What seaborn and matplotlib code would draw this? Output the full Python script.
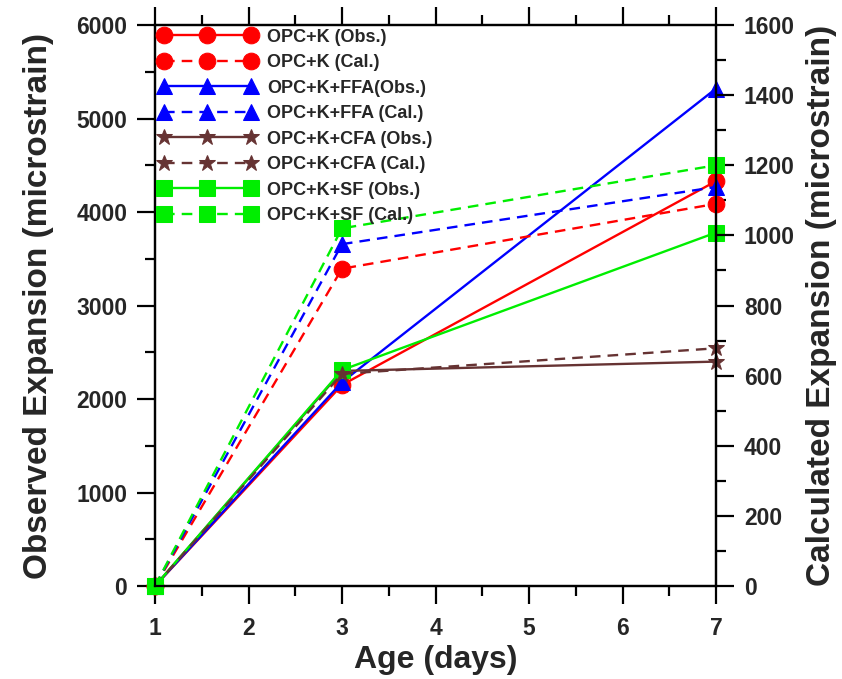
import matplotlib
matplotlib.use("Agg")
import matplotlib.pyplot as plt
import seaborn as sns
import pandas as pd
from matplotlib.ticker import MultipleLocator

sns.set_theme(style="white")
plt.rcParams['font.family'] = ['Liberation Sans', 'DejaVu Sans']
plt.rcParams['font.weight'] = 'bold'

days = [1, 3, 7]
k_obs = [0, 2150, 4330]
k_cal = [0, 905, 1090]
ffa_obs = [0, 2180, 5320]
ffa_cal = [0, 975, 1138]
cfa_obs = [0, 2300, 2400]
cfa_cal = [0, 605, 678]
sf_obs = [0, 2310, 3780]
sf_cal = [0, 1020, 1200]

labels_obs = ["OPC+K (Obs.)", "OPC+K+FFA(Obs.)", "OPC+K+CFA (Obs.)", "OPC+K+SF (Obs.)"]
labels_cal = ["OPC+K (Cal.)", "OPC+K+FFA (Cal.)", "OPC+K+CFA (Cal.)", "OPC+K+SF (Cal.)"]
colors = ["#ff0000", "#0000ff", "#663333", "#00ee00"]
markers = ["o", "^", "*", "s"]
msizes = [12, 11.5, 12, 12]

fig = plt.figure(figsize=(8.42, 6.79), dpi=100)
ax = fig.add_axes([155/842, 1-586/679, (716-155)/842, (586-25)/679])
ax2 = ax.twinx()

obs_sets = [k_obs, ffa_obs, cfa_obs, sf_obs]
cal_sets = [k_cal, ffa_cal, cfa_cal, sf_cal]

handles = {}
for i in range(4):
    df = pd.DataFrame({"day": days, "val": obs_sets[i]})
    sns.lineplot(data=df, x="day", y="val", ax=ax, color=colors[i], marker=markers[i],
                 markersize=msizes[i], markeredgecolor=colors[i], linewidth=1.7,
                 label=labels_obs[i], clip_on=False, legend=False)
    handles[labels_obs[i]] = ax.lines[-1]
for i in range(4):
    df = pd.DataFrame({"day": days, "val": cal_sets[i]})
    sns.lineplot(data=df, x="day", y="val", ax=ax2, color=colors[i], marker=markers[i],
                 markersize=msizes[i], markeredgecolor=colors[i], linewidth=1.7,
                 linestyle=(0, (4.5, 3)), label=labels_cal[i], clip_on=False, legend=False)
    handles[labels_cal[i]] = ax2.lines[-1]

ax.set_xlim(1, 7)
ax.set_ylim(0, 6000)
ax2.set_ylim(0, 1600)

ax.xaxis.set_major_locator(MultipleLocator(1))
ax.xaxis.set_minor_locator(MultipleLocator(0.5))
ax.yaxis.set_major_locator(MultipleLocator(1000))
ax.yaxis.set_minor_locator(MultipleLocator(500))
ax2.yaxis.set_major_locator(MultipleLocator(200))
ax2.yaxis.set_minor_locator(MultipleLocator(100))

for a in (ax, ax2):
    for s in a.spines.values():
        s.set_linewidth(1.6)
        s.set_color("black")
    a.tick_params(which="major", length=13, width=1.6, direction="out", labelsize=16.5, pad=7, color="black")
    a.tick_params(which="minor", length=7, width=1.6, direction="out", color="black")

ax.tick_params(axis="x", which="both", top=True, bottom=True, labeltop=False)
ax.tick_params(axis="x", which="major", pad=9)
ax.tick_params(axis="y", which="both", left=True, right=False)
ax2.tick_params(axis="y", which="both", right=True, left=False)
for lab in ax.get_xticklabels() + ax.get_yticklabels() + ax2.get_yticklabels():
    lab.set_fontweight("bold")

ax.set_xlabel("Age (days)", fontsize=23, fontweight="bold", labelpad=4)
ax.set_ylabel("Observed Expansion (microstrain)", fontsize=24, fontweight="bold", labelpad=16)
ax2.set_ylabel("Calculated Expansion (microstrain)", fontsize=24, fontweight="bold", labelpad=8)
ax.grid(False)
ax2.grid(False)

order = ["OPC+K (Obs.)", "OPC+K (Cal.)", "OPC+K+FFA(Obs.)", "OPC+K+FFA (Cal.)",
         "OPC+K+CFA (Obs.)", "OPC+K+CFA (Cal.)", "OPC+K+SF (Obs.)", "OPC+K+SF (Cal.)"]
leg = ax2.legend([handles[k] for k in order], order, loc="upper left", bbox_to_anchor=(0, 1),
                 frameon=False, numpoints=3, handlelength=5.4, handletextpad=0.6,
                 labelspacing=0.47, borderpad=0.1, borderaxespad=0.1,
                 prop={"weight": "bold", "size": 13})

fig.savefig("out.png", dpi=100)
